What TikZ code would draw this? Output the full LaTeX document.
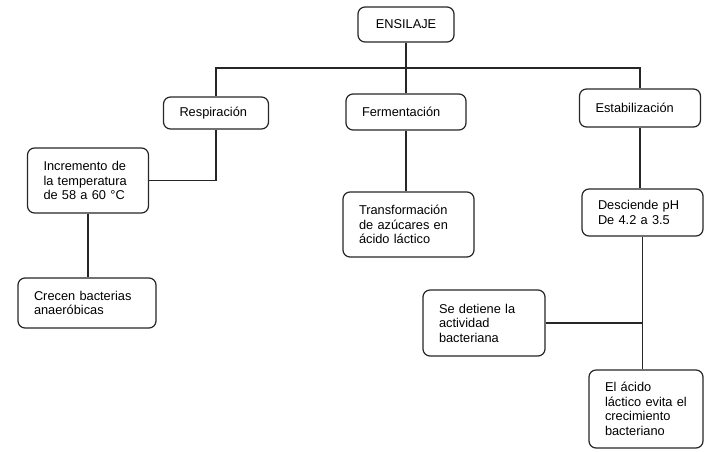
\documentclass[tikz,border=0pt]{standalone}
\usepackage{fontspec}
\setmainfont{Liberation Sans}
\usetikzlibrary{positioning}

\begin{document}
\begin{tikzpicture}[x=1pt,y=-1pt,
    caja/.style={draw=black!85,line width=1.2pt,rounded corners=7pt,fill=white,
      align=left,inner xsep=16pt,inner ysep=2pt,
      font=\fontsize{12.8}{14.5}\selectfont},
    linea/.style={line width=1.2pt,black!85}]
    \useasboundingbox (0,0) rectangle (704,451);
    % Top
    \node[caja,minimum width=96pt,minimum height=35pt] (ens) at (406,24.5) {ENSILAJE};
    \coordinate (bus) at (406,68);
    % Second level
    \node[caja,minimum width=105pt,minimum height=32pt,text width=73pt] (resp) at (216,113) {Respiración};
    \node[caja,minimum width=120pt,minimum height=36pt,text width=88pt] (ferm) at (406,112) {Fermentación};
    \node[caja,minimum width=121pt,minimum height=38pt,text width=89pt] (estab) at (640,108) {Estabilización};
    % Respiracion branch
    \node[caja,minimum width=121pt,minimum height=65pt,text width=89pt] (incr) at (88,180.5) {Incremento de\\la temperatura\\de 58 a 60 °C};
    \node[caja,minimum width=138pt,minimum height=50pt,text width=106pt] (crec) at (87,303) {Crecen bacterias\\anaeróbicas};
    % Fermentacion branch
    \node[caja,minimum width=131pt,minimum height=65pt,text width=99pt] (transf) at (408.5,224.5) {Transformación\\de azúcares en\\ácido láctico};
    % Estabilizacion branch
    \node[caja,minimum width=121pt,minimum height=47pt,text width=89pt] (desc) at (642.5,212.5) {Desciende pH\\De 4.2 a 3.5};
    \node[caja,minimum width=122pt,minimum height=66pt,text width=90pt] (deti) at (484,323) {Se detiene la\\actividad\\bacteriana};
    \node[caja,minimum width=114pt,minimum height=78pt,text width=82pt] (acido) at (646,409) {El ácido\\láctico evita el\\crecimiento\\bacteriano};
    % Connectors
    \draw[linea] (ens) -- (ferm);
    \draw[linea] (resp.north) |- (bus) -| (estab.north);
    \draw[linea] (resp.south) |- (incr.east);
    \draw[linea] (incr.south) -- (incr.south |- crec.north);
    \draw[linea] (ferm.south) -- (ferm.south |- transf.north);
    \draw[linea] (estab.south) -- (estab.south |- desc.north);
    \draw[linea] (desc.south) -- (desc.south |- acido.north);
    \coordinate (jn) at (desc.south |- deti.east);
    \draw[linea] (deti.east) -- (jn);
\end{tikzpicture}
\end{document}
